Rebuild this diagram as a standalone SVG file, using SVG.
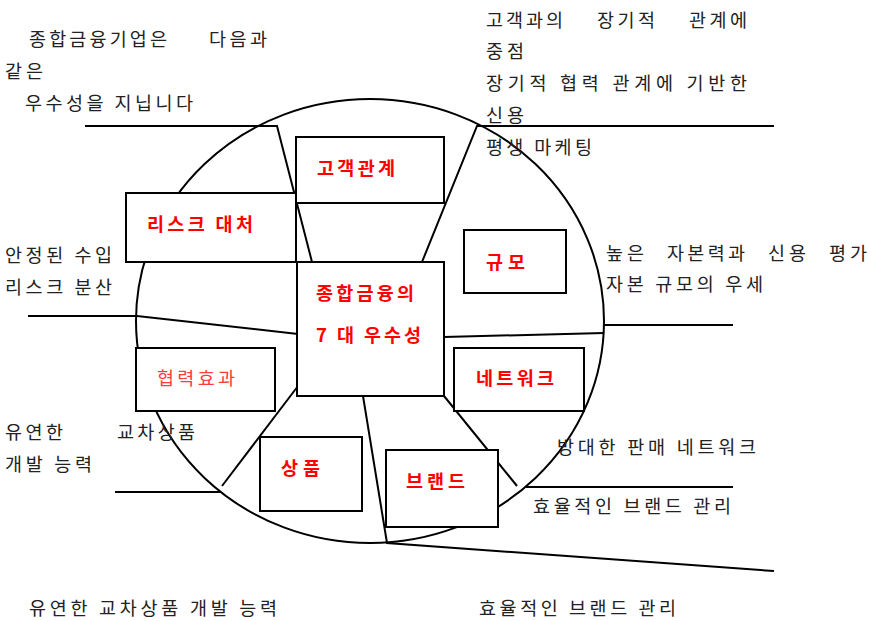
<svg xmlns="http://www.w3.org/2000/svg" width="871" height="621" viewBox="0 0 871 621">
<style>
.t{font-family:"Noto Sans CJK KR","Noto Sans",sans-serif;font-size:18.5px;fill:#222;}
.r{font-family:"Noto Sans CJK KR","Noto Sans",sans-serif;font-size:18.5px;fill:#ff0000;font-weight:bold;}
.rl{font-family:"Noto Sans CJK KR","Noto Sans",sans-serif;font-size:18.5px;fill:#ff3b3b;}
.ln{fill:none;stroke:#000;stroke-width:2;}
.bx{fill:#fff;stroke:#000;stroke-width:2;}
</style>
<rect width="871" height="621" fill="#fff"/>
<ellipse cx="370" cy="321" rx="234" ry="222" class="ln"/>
<g id="connectors">
<polyline class="ln" points="85,126 277,126 312,262"/>
<polyline class="ln" points="422,262 477,126 774,126"/>
<polyline class="ln" points="28,316 137,316 298,334"/>
<polyline class="ln" points="444,337 604,333"/>
<line class="ln" x1="604" y1="325" x2="733" y2="325"/>
<line class="ln" x1="298" y1="386" x2="222" y2="486"/>
<line class="ln" x1="115" y1="492" x2="221" y2="492"/>
<polyline class="ln" points="363,396 387,543 774,571"/>
<line class="ln" x1="444" y1="396" x2="517" y2="486"/>
<line class="ln" x1="526" y1="487" x2="733" y2="487"/>
</g>
<g id="node-customer"><rect class="bx" x="296" y="137" width="148" height="66"/><text class="r" x="317" y="175" textLength="78">고객관계</text></g>
<g id="node-risk"><rect class="bx" x="126" y="193" width="170" height="69"/><text class="r" x="147" y="231" textLength="106">리스크 대처</text></g>
<g id="node-center"><rect class="bx" x="297" y="262" width="147" height="134"/><text class="r" x="316" y="300" textLength="98">종합금융의</text><text class="r" x="316" y="342" textLength="105">7 대 우수성</text></g>
<g id="node-scale"><rect class="bx" x="464" y="230" width="102" height="63"/><text class="r" x="486" y="269" textLength="39">규모</text></g>
<g id="node-network"><rect class="bx" x="454" y="348" width="130" height="63"/><text class="r" x="476" y="385" textLength="78">네트워크</text></g>
<g id="node-synergy"><rect class="bx" x="136" y="348" width="139" height="63"/><text class="rl" x="157" y="385" textLength="78">협력효과</text></g>
<g id="node-product"><rect class="bx" x="260" y="437" width="102" height="74"/><text class="r" x="281" y="475" textLength="39">상품</text></g>
<g id="node-brand"><rect class="bx" x="386" y="450" width="112" height="77"/><text class="r" x="406" y="488" textLength="59">브랜드</text></g>
<g id="texts">
<text class="t" x="29" y="46" textLength="138">종합금융기업은</text>
<text class="t" x="209" y="46" textLength="58">다음과</text>
<text class="t" x="5" y="78" textLength="38">같은</text>
<text class="t" x="25" y="110" textLength="168">우수성을 지닙니다</text>
<text class="t" x="486" y="27" textLength="77">고객과의</text>
<text class="t" x="597" y="27" textLength="58">장기적</text>
<text class="t" x="689" y="27" textLength="58">관계에</text>
<text class="t" x="486" y="58" textLength="38">중점</text>
<text class="t" x="486" y="90" textLength="261">장기적 협력 관계에 기반한</text>
<text class="t" x="486" y="122" textLength="38">신용</text>
<text class="t" x="486" y="154" textLength="106">평생 마케팅</text>
<text class="t" x="606" y="260" textLength="38">높은</text>
<text class="t" x="667" y="260" textLength="78">자본력과</text>
<text class="t" x="768" y="260" textLength="38">신용</text>
<text class="t" x="829" y="260" textLength="38">평가</text>
<text class="t" x="606" y="291" textLength="157">자본 규모의 우세</text>
<text class="t" x="5" y="262" textLength="107">안정된 수입</text>
<text class="t" x="5" y="294" textLength="107">리스크 분산</text>
<text class="t" x="5" y="439" textLength="58">유연한</text>
<text class="t" x="117" y="439" textLength="78">교차상품</text>
<text class="t" x="5" y="471" textLength="87">개발 능력</text>
<text class="t" x="29" y="615" textLength="248">유연한 교차상품 개발 능력</text>
<text class="t" x="557" y="454" textLength="199">방대한 판매 네트워크</text>
<text class="t" x="533" y="513" textLength="198">효율적인 브랜드 관리</text>
<text class="t" x="479" y="615" textLength="197">효율적인 브랜드 관리</text>
</g>
</svg>
